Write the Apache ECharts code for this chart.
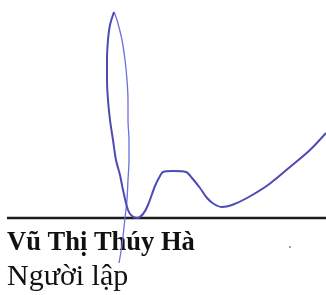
<!DOCTYPE html>
<html>
<head>
<meta charset="utf-8">
<script src="https://cdn.jsdelivr.net/npm/echarts@6/dist/echarts.min.js"></script>
<style>
  html, body { margin: 0; padding: 0; background: #fff; }
  #main { width: 326px; height: 295px; }
</style>
</head>
<body>
<div id="main"></div>
<script>
// chữ ký: nét chính (bên trái vòng + phần uốn sang phải)
const mainX = [114, 110, 108, 107, 107, 108, 110, 113, 116, 120, 123, 128, 132, 137, 143, 148, 155, 160, 163, 173, 186, 192, 200, 207, 214, 222, 232, 247, 268, 290, 310, 326]
const mainY = [12, 25, 40, 60, 80, 100, 120, 140, 160, 175, 190, 210, 216, 218, 214, 205, 186, 176, 172, 171, 172, 178, 188, 198, 204, 207, 205, 198, 185, 167, 150, 133]
// nét mảnh bên phải vòng, kéo xuống dưới đường kẻ
const thinX = [114, 117, 122, 125, 127, 128, 128, 129, 129, 128, 127, 125, 122, 119]
const thinY = [12, 20, 40, 60, 80, 100, 120, 140, 160, 180, 200, 218, 245, 263]
// đường kẻ ngang
const ruleX = [7, 326]
const ruleY = [218, 218]
const dot = [[290, 247]]
const nameText = 'Vũ Thị Thúy Hà'
const roleText = 'Người lập'

function pairs(xs, ys) {
  return xs.map((x, i) => [x, ys[i]])
}

let myChart = echarts.init(document.getElementById('main'))
let option = {
  animation: false,
  backgroundColor: '#fff',
  grid: { left: 0, right: 0, top: 0, bottom: 0 },
  xAxis: { type: 'value', min: 0, max: 326, show: false },
  yAxis: { type: 'value', min: 0, max: 295, inverse: true, show: false },
  series: [
    {
      type: 'line',
      data: pairs(ruleX, ruleY),
      symbol: 'none',
      lineStyle: { color: '#1c1c1c', width: 2.5 },
      z: 1
    },
    {
      type: 'line',
      data: pairs(thinX, thinY),
      symbol: 'none',
      smooth: 0.3,
      lineStyle: { color: '#6b6fe0', width: 1.3 },
      z: 3
    },
    {
      type: 'line',
      data: pairs(mainX, mainY),
      symbol: 'none',
      smooth: 0.3,
      lineStyle: { color: '#4e4ab4', width: 2 },
      z: 4
    },
    {
      type: 'scatter',
      data: dot,
      symbolSize: 2,
      itemStyle: { color: '#666' },
      z: 2
    }
  ],
  graphic: [
    {
      type: 'text',
      left: 7,
      top: 230,
      z: 2,
      style: {
        text: nameText,
        font: 'bold 26.5px "Liberation Serif"',
        fill: '#111'
      }
    },
    {
      type: 'text',
      left: 7,
      top: 262,
      z: 2,
      style: {
        text: roleText,
        font: '30px "Liberation Serif"',
        fill: '#111'
      }
    }
  ]
}
myChart.setOption(option)
</script>
</body>
</html>
